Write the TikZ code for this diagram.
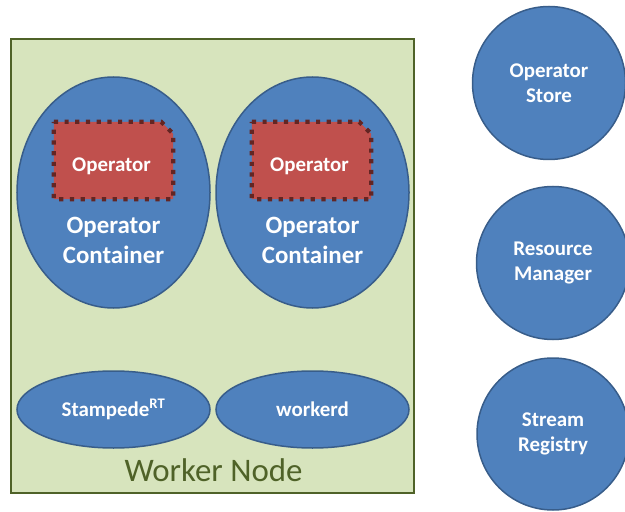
\documentclass[tikz,border=0pt]{standalone}
\usepackage{fontspec}
\setmainfont{Carlito}
\usetikzlibrary{shapes.geometric}
\definecolor{bluefill}{HTML}{4F81BD}
\definecolor{blueline}{HTML}{385D8A}
\definecolor{greenfill}{HTML}{D7E4BD}
\definecolor{greenline}{HTML}{4F6228}
\definecolor{redfill}{HTML}{C0504D}
\definecolor{redline}{HTML}{632523}
\begin{document}
\begin{tikzpicture}[x=1bp,y=-1bp,
  bluebox/.style={fill=bluefill,draw=blueline,line width=1.5bp,inner sep=0pt},
  wlabel/.style={text=white,font=\fontsize{21}{25}\selectfont\bfseries,align=center,inner sep=0pt},
  biglabel/.style={text=white,font=\fontsize{25}{29}\selectfont\bfseries,inner sep=0pt,anchor=base},
  opframe/.style={draw=none,minimum width=119bp,minimum height=77bp,inner sep=0pt},
  opoutline/.style={fill=redfill,draw=redline,line width=4.2bp,dash pattern=on 4.2bp off 6.5bp},
]
\useasboundingbox (0,0) rectangle (625,512);
% worker node frame
\node[draw=greenline,fill=greenfill,line width=2bp,minimum width=403bp,minimum height=454bp,inner sep=0pt] (wn) at (212.5,266) {};
\node[text=greenline,font=\fontsize{33}{38}\selectfont,anchor=base,inner sep=0pt] (wnl) at (213.5,481) {Worker Node};
% operator containers
\node[bluebox,ellipse,minimum width=193bp,minimum height=231bp] (oc1) at (113.5,192.5) {};
\node[bluebox,ellipse,minimum width=193bp,minimum height=231bp] (oc2) at (312.5,192.5) {};
\node[biglabel] (oc1a) at (113.5,234) {Operator};
\node[biglabel] (oc1b) at (113.5,263) {Container};
\node[biglabel] (oc2a) at (312.5,234) {Operator};
\node[biglabel] (oc2b) at (312.5,263) {Container};
% operators
\node[opframe] (op1) at (113.5,160.5) {};
\node[opframe] (op2) at (311.5,160.5) {};
\foreach \o in {op1,op2}{
  \draw[opoutline] (\o.north west) -- ([xshift=-12bp]\o.north east) -- ([yshift=-12bp]\o.north east) -- (\o.south east) -- (\o.south west) -- cycle;
}
\node[wlabel,anchor=base] (op1l) at (111.5,172) {Operator};
\node[wlabel,anchor=base] (op2l) at (309.5,172) {Operator};
% runtime ellipses
\node[bluebox,ellipse,minimum width=193bp,minimum height=77bp,wlabel] (st) at (113.5,409.5) {Stampede\textsuperscript{RT}};
\node[bluebox,ellipse,minimum width=193bp,minimum height=77bp,wlabel] (wd) at (312.5,409.5) {workerd};
% services
\node[bluebox,circle,minimum size=153bp,wlabel] (os) at (549,83) {Operator\\Store};
\node[bluebox,circle,minimum size=153bp,wlabel] (rm) at (553,263) {Resource\\Manager};
\node[bluebox,circle,minimum size=152bp,wlabel] (sr) at (553,434) {Stream\\Registry};
\end{tikzpicture}
\end{document}
